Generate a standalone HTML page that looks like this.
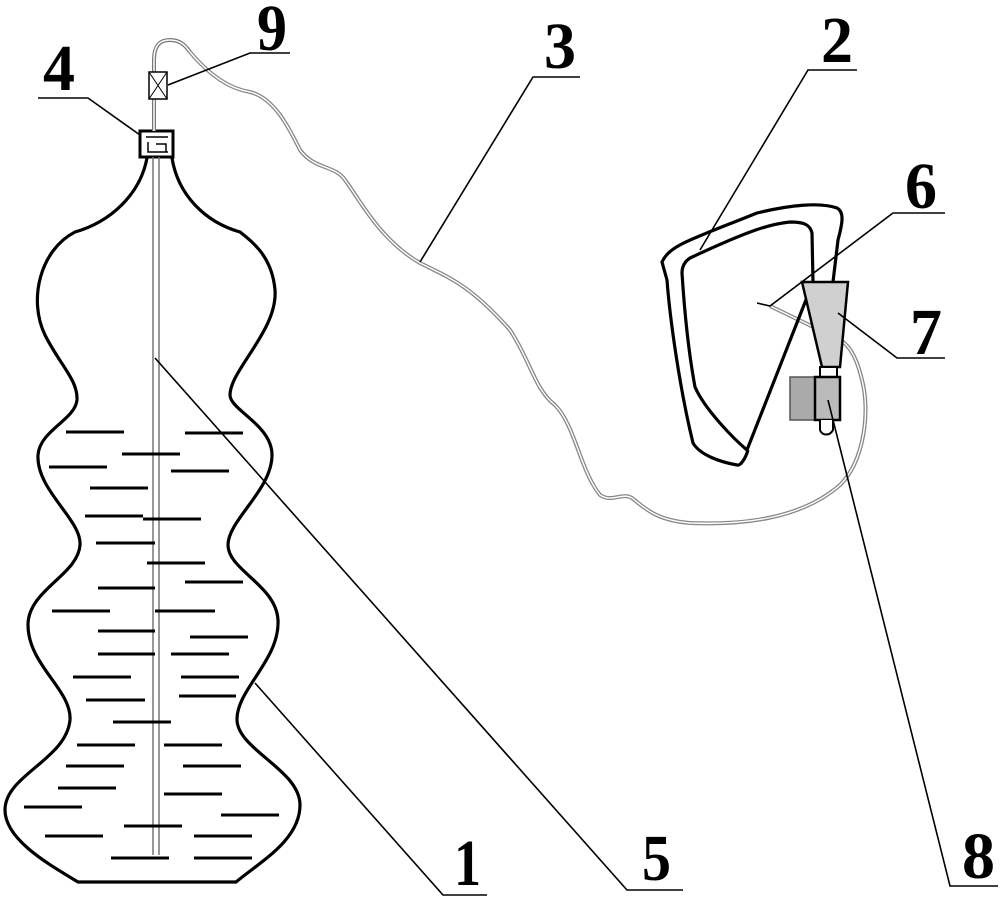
<!DOCTYPE html>
<html><head><meta charset="utf-8"><style>
html,body{margin:0;padding:0;background:#fff;}
svg{display:block;}
text{font-family:"Liberation Serif",serif;font-weight:bold;fill:#000;}
</style></head><body>
<svg width="1000" height="901" viewBox="0 0 1000 901" xmlns="http://www.w3.org/2000/svg">
<path d="M147,158 C140,195 110,222 75,232 C40,250 28,300 45,335 C60,365 78,380 77,400 C75,420 40,430 38,455 C36,490 82,520 80,545 C78,575 28,590 28,625 C28,665 72,690 70,720 C66,760 5,775 5,810 C5,840 50,865 78,882 L236,882 C260,862 300,840 300,805 C300,770 238,750 237,720 C236,690 280,660 278,620 C276,585 228,570 228,545 C228,520 272,490 272,455 C272,425 230,410 230,395 C230,370 278,330 275,290 C272,255 250,240 240,232 C205,222 178,195 172,158" fill="none" stroke="#000" stroke-width="3.2"/>
<rect x="140" y="131" width="33" height="26" fill="none" stroke="#000" stroke-width="3"/>
<path d="M146,137 H168 M148,142 V152 H168 M156,144 H166 V152" fill="none" stroke="#000" stroke-width="1.5"/>
<path d="M153,157 V855 M159,157 V855" stroke="#777" stroke-width="1.5"/>
<path d="M154,131 V60 C154,45 160,40 170,40 C180,40 185,45 190,52" fill="none" stroke="#777" stroke-width="4"/>
<path d="M154,131 V60 C154,45 160,40 170,40 C180,40 185,45 190,52" fill="none" stroke="#fff" stroke-width="1.5"/>
<rect x="149" y="72" width="18" height="27" fill="#fff" stroke="#000" stroke-width="1.5"/>
<path d="M149,72 L167,99 M167,72 L149,99" stroke="#000" stroke-width="1"/>
<path d="M190,52 C205,70 225,88 250,92 C275,98 290,130 300,150 C315,170 335,165 345,180 C360,200 380,240 420,263 C450,278 470,285 510,330 C530,360 535,390 555,405 C575,425 580,470 600,495 C612,503 622,492 632,498 C645,508 655,520 690,523 C740,525 800,520 840,485 C865,460 870,410 862,380 C855,350 845,340 830,335 L770,306" fill="none" stroke="#888" stroke-width="4"/>
<path d="M190,52 C205,70 225,88 250,92 C275,98 290,130 300,150 C315,170 335,165 345,180 C360,200 380,240 420,263 C450,278 470,285 510,330 C530,360 535,390 555,405 C575,425 580,470 600,495 C612,503 622,492 632,498 C645,508 655,520 690,523 C740,525 800,520 840,485 C865,460 870,410 862,380 C855,350 845,340 830,335 L770,306" fill="none" stroke="#fff" stroke-width="1.4"/>
<g stroke="#000" stroke-width="3">
<path d="M66,432H124M185,433H243M122,454H180M49,467H107M171,471H229M90,488H148M85,516H143M143,519H201M96,543H155M147,563H205M185,582H243M98,588H155M52,611H110M155,611H215M98,631H155M190,637H248M98,654H155M171,654H229M73,677H131M181,677H239M86,700H145M179,696H236M113,722H171M77,745H135M164,745H222M66,766H124M183,766H241M58,788H116M164,794H222M24,807H82M221,815H279M124,826H182M45,836H103M194,836H252M111,858H169M194,858H252"/>
</g>
<path d="M748,450 C745,460 740,466 737,465 C720,462 700,455 693,443 C680,390 670,320 667,280 L662,262 C670,245 690,240 757,213 C790,205 820,202 837,208 C845,212 842,225 838,240 L833,282 M813,282 L812,233 C810,225 805,222 790,222 C770,224 750,230 690,258 C684,262 682,268 682,273 C685,320 690,360 695,387 C705,410 735,440 747,450 Z" fill="none" stroke="#000" stroke-width="3.2"/>
<path d="M802,282 L848,282 L840,367 L822,367 Z" fill="#d0d0d0" stroke="#000" stroke-width="2.5"/>
<rect x="820" y="367" width="17" height="10" fill="#fff" stroke="#000" stroke-width="2"/>
<rect x="790" y="377" width="25" height="43" fill="#aaa" stroke="#555" stroke-width="1.5"/>
<rect x="815" y="377" width="25" height="43" fill="#bbb" stroke="#000" stroke-width="2.5"/>
<path d="M820,420 V430 C822,436 830,436 833,430 V420" fill="#fff" stroke="#000" stroke-width="2"/>
<g stroke="#000" stroke-width="1.6" fill="none">
<path d="M168,85 L250,53 H290"/>
<path d="M140,135 L88,98 H38"/>
<path d="M420,262 L533,77 H580"/>
<path d="M700,250 L808,70 H857"/>
<path d="M757,303 L770,306 L893,213 H945"/>
<path d="M838,313 L897,358 H945"/>
<path d="M828,400 L950,886 H998"/>
<path d="M155,358 L627,890 H683"/>
<path d="M255,683 L443,895 H487"/>
</g>
<text x="257" y="50" font-size="66" textLength="30" lengthAdjust="spacingAndGlyphs">9</text>
<text x="43" y="90" font-size="66" textLength="32" lengthAdjust="spacingAndGlyphs">4</text>
<text x="544" y="68" font-size="66" textLength="32" lengthAdjust="spacingAndGlyphs">3</text>
<text x="821" y="62" font-size="66" textLength="32" lengthAdjust="spacingAndGlyphs">2</text>
<text x="905" y="208" font-size="66" textLength="32" lengthAdjust="spacingAndGlyphs">6</text>
<text x="910" y="354" font-size="66" textLength="32" lengthAdjust="spacingAndGlyphs">7</text>
<text x="962" y="878" font-size="66" textLength="33" lengthAdjust="spacingAndGlyphs">8</text>
<text x="642" y="880" font-size="66" textLength="29" lengthAdjust="spacingAndGlyphs">5</text>
<text x="454" y="885" font-size="66" textLength="27" lengthAdjust="spacingAndGlyphs">1</text>
</svg>
</body></html>
